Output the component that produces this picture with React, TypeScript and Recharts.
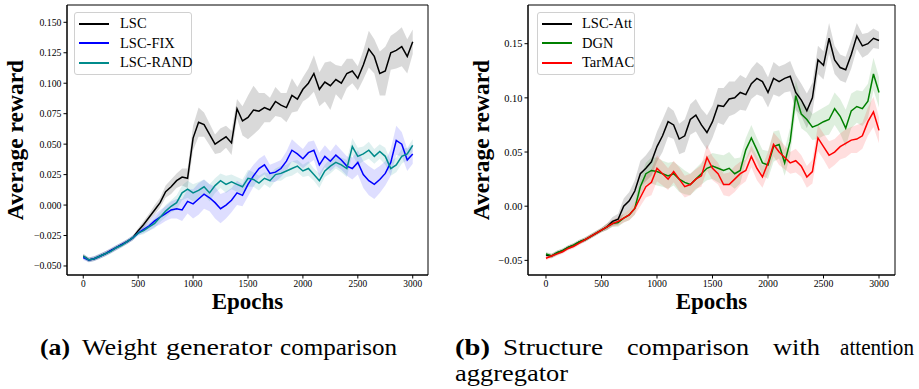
import React from 'react';
import { ComposedChart, Line, Area, XAxis, YAxis, Legend, ReferenceArea } from 'recharts';

const SERIF = '"Liberation Serif", "Times New Roman", serif';

// sampled every 50 epochs
const EPOCHS = Array.from({ length: 61 }, (_, i) => i * 50);
const X_TICKS = [0, 500, 1000, 1500, 2000, 2500, 3000];

// (a) weight generator comparison
const lsc = [
  -0.042, -0.045, -0.044, -0.042, -0.04, -0.0375, -0.035, -0.0325, -0.03, -0.027, -0.021,
  -0.016, -0.01, -0.004, 0.002, 0.011, 0.015, 0.02, 0.023, 0.022,
  0.055, 0.068, 0.066, 0.058, 0.05, 0.053, 0.056, 0.051,
  0.079, 0.069, 0.072, 0.078, 0.077, 0.08, 0.078, 0.085, 0.082, 0.08, 0.09, 0.087,
  0.095, 0.1, 0.108, 0.095, 0.101, 0.098, 0.103, 0.1, 0.108, 0.11,
  0.104, 0.115, 0.128, 0.122, 0.108, 0.11, 0.125, 0.127, 0.13, 0.122, 0.134,
];
const lscSpread = [
  0.002, 0.002, 0.002, 0.002, 0.002, 0.002, 0.002, 0.002, 0.002, 0.002, 0.002,
  0.003, 0.003, 0.004, 0.004, 0.005, 0.006, 0.006, 0.007, 0.008,
  0.01, 0.012, 0.01, 0.009, 0.008, 0.01, 0.009, 0.01,
  0.008, 0.012, 0.018, 0.02, 0.015, 0.012, 0.01, 0.012, 0.01, 0.012, 0.014, 0.01,
  0.01, 0.012, 0.015, 0.014, 0.016, 0.02, 0.012, 0.014, 0.012, 0.01,
  0.01, 0.012, 0.015, 0.014, 0.018, 0.02, 0.014, 0.015, 0.016, 0.014, 0.01,
];
const lscFix = [
  -0.043, -0.045, -0.044, -0.042, -0.04, -0.0375, -0.035, -0.0325, -0.03, -0.027, -0.023,
  -0.02, -0.017, -0.013, -0.01, -0.007, -0.004, -0.003, -0.004, 0.003,
  0.001, 0.005, 0.009, 0.006, 0.002, -0.003, 0.0, 0.004,
  0.01, 0.008, 0.017, 0.024, 0.03, 0.033, 0.026, 0.027, 0.03, 0.036, 0.045, 0.042,
  0.038, 0.043, 0.045, 0.033, 0.04, 0.036, 0.041, 0.037, 0.032, 0.03,
  0.035, 0.025, 0.02, 0.017, 0.021, 0.026, 0.035, 0.053, 0.05, 0.037, 0.042,
];
const lscFixSpread = [
  0.002, 0.002, 0.002, 0.002, 0.002, 0.002, 0.002, 0.002, 0.002, 0.002, 0.002,
  0.003, 0.004, 0.005, 0.006, 0.006, 0.007, 0.008, 0.009, 0.01,
  0.012, 0.013, 0.012, 0.011, 0.013, 0.012, 0.011, 0.01,
  0.01, 0.009, 0.01, 0.009, 0.008, 0.008, 0.007, 0.008, 0.007, 0.008, 0.009, 0.008,
  0.008, 0.009, 0.008, 0.01, 0.009, 0.008, 0.009, 0.008, 0.008, 0.009,
  0.01, 0.011, 0.012, 0.012, 0.011, 0.01, 0.011, 0.012, 0.01, 0.009, 0.008,
];
const lscRand = [
  -0.042, -0.045, -0.044, -0.042, -0.04, -0.038, -0.035, -0.033, -0.03, -0.027, -0.023,
  -0.021, -0.018, -0.015, -0.01, -0.005, -0.001, 0.002, 0.01, 0.013,
  0.01, 0.012, 0.015, 0.01, 0.016, 0.02, 0.017, 0.019,
  0.017, 0.015, 0.022, 0.021, 0.018, 0.022, 0.02, 0.025, 0.026, 0.028, 0.03, 0.032,
  0.028, 0.03, 0.025, 0.02, 0.028, 0.032, 0.035, 0.033, 0.03, 0.048,
  0.04, 0.042, 0.045, 0.04, 0.044, 0.04, 0.03, 0.033, 0.04, 0.042, 0.049,
];
const lscRandSpread = [
  0.002, 0.002, 0.002, 0.002, 0.002, 0.002, 0.002, 0.002, 0.002, 0.002, 0.002,
  0.003, 0.003, 0.004, 0.004, 0.005, 0.005, 0.006, 0.006, 0.007,
  0.007, 0.007, 0.006, 0.007, 0.006, 0.006, 0.007, 0.006,
  0.006, 0.006, 0.007, 0.006, 0.006, 0.005, 0.006, 0.005, 0.006, 0.005, 0.006, 0.005,
  0.005, 0.006, 0.005, 0.006, 0.005, 0.006, 0.005, 0.006, 0.007, 0.007,
  0.007, 0.006, 0.007, 0.006, 0.006, 0.007, 0.006, 0.006, 0.006, 0.005, 0.005,
];

// (b) structure comparison with attention aggregator
const lscAtt = [
  -0.045, -0.046, -0.043, -0.041, -0.038, -0.036, -0.033, -0.031, -0.028, -0.025, -0.022,
  -0.019, -0.014, -0.012, 0.0, 0.005, 0.014, 0.03, 0.035, 0.041,
  0.055, 0.065, 0.078, 0.075, 0.062, 0.065, 0.08, 0.084,
  0.075, 0.068, 0.078, 0.093, 0.092, 0.099, 0.1, 0.105, 0.103, 0.113, 0.118, 0.115,
  0.105, 0.118, 0.115, 0.118, 0.12, 0.105, 0.098, 0.088, 0.1, 0.135,
  0.13, 0.155, 0.135, 0.128, 0.126, 0.14, 0.157, 0.148, 0.15, 0.155, 0.153,
];
const lscAttSpread = [
  0.002, 0.002, 0.002, 0.002, 0.002, 0.002, 0.002, 0.002, 0.002, 0.002, 0.002,
  0.003, 0.004, 0.005, 0.007, 0.008, 0.01, 0.012, 0.012, 0.013,
  0.014, 0.015, 0.014, 0.013, 0.014, 0.015, 0.014, 0.015,
  0.015, 0.016, 0.015, 0.016, 0.017, 0.016, 0.015, 0.016, 0.015, 0.014, 0.015, 0.014,
  0.014, 0.015, 0.014, 0.013, 0.014, 0.016, 0.015, 0.016, 0.014, 0.013,
  0.013, 0.014, 0.013, 0.012, 0.012, 0.013, 0.012, 0.011, 0.01, 0.009, 0.008,
];
const dgn = [
  -0.044, -0.046, -0.043, -0.041, -0.038, -0.036, -0.033, -0.031, -0.028, -0.025, -0.022,
  -0.019, -0.016, -0.015, -0.011, -0.008, -0.002, 0.018, 0.03, 0.033,
  0.032, 0.03, 0.028, 0.03, 0.025, 0.022, 0.02, 0.025,
  0.03, 0.035, 0.037, 0.035, 0.033, 0.035, 0.03, 0.033, 0.052, 0.063, 0.052, 0.04,
  0.038, 0.055, 0.057, 0.04, 0.06, 0.102, 0.085, 0.08, 0.073, 0.075,
  0.078, 0.08, 0.09, 0.083, 0.072, 0.088, 0.092, 0.09, 0.097, 0.122, 0.105,
];
const dgnSpread = [
  0.002, 0.002, 0.002, 0.002, 0.002, 0.002, 0.002, 0.002, 0.002, 0.002, 0.002,
  0.003, 0.003, 0.004, 0.004, 0.005, 0.006, 0.008, 0.01, 0.012,
  0.013, 0.012, 0.012, 0.011, 0.012, 0.011, 0.01, 0.01,
  0.01, 0.011, 0.012, 0.013, 0.014, 0.015, 0.014, 0.012, 0.011, 0.012, 0.011, 0.012,
  0.013, 0.014, 0.013, 0.012, 0.013, 0.014, 0.013, 0.012, 0.012, 0.013,
  0.013, 0.014, 0.015, 0.016, 0.017, 0.016, 0.015, 0.016, 0.016, 0.015, 0.014,
];
const tarmac = [
  -0.048, -0.046, -0.044, -0.042, -0.039, -0.037, -0.034, -0.031, -0.028, -0.025, -0.022,
  -0.019, -0.016, -0.014, -0.011, -0.008, -0.002, 0.008, 0.018, 0.022,
  0.035, 0.03, 0.025, 0.032, 0.025, 0.018, 0.02, 0.025,
  0.028, 0.045, 0.035, 0.03, 0.02, 0.02, 0.025, 0.03, 0.033, 0.046, 0.035, 0.027,
  0.04, 0.057, 0.05, 0.045, 0.04, 0.042, 0.037, 0.027, 0.032, 0.063,
  0.055, 0.047, 0.05, 0.055, 0.058, 0.061, 0.062, 0.065, 0.078, 0.087, 0.07,
];
const tarmacSpread = [
  0.002, 0.002, 0.002, 0.002, 0.002, 0.002, 0.002, 0.002, 0.002, 0.002, 0.002,
  0.003, 0.003, 0.004, 0.004, 0.005, 0.006, 0.008, 0.01, 0.012,
  0.012, 0.011, 0.01, 0.01, 0.011, 0.01, 0.01, 0.009,
  0.01, 0.012, 0.011, 0.01, 0.01, 0.011, 0.012, 0.011, 0.01, 0.01, 0.011, 0.01,
  0.01, 0.011, 0.012, 0.011, 0.01, 0.011, 0.01, 0.01, 0.011, 0.012,
  0.012, 0.013, 0.012, 0.012, 0.013, 0.012, 0.013, 0.012, 0.013, 0.014, 0.012,
];

type Series = { key: string; name: string; color: string; bandOpacity: number; values: number[]; spread: number[] };

const seriesA: Series[] = [
  { key: 'lsc', name: 'LSC', color: '#000000', bandOpacity: 0.15, values: lsc, spread: lscSpread },
  { key: 'lscFix', name: 'LSC-FIX', color: '#0000ff', bandOpacity: 0.13, values: lscFix, spread: lscFixSpread },
  { key: 'lscRand', name: 'LSC-RAND', color: '#008b8b', bandOpacity: 0.13, values: lscRand, spread: lscRandSpread },
];
const seriesB: Series[] = [
  { key: 'lscAtt', name: 'LSC-Att', color: '#000000', bandOpacity: 0.15, values: lscAtt, spread: lscAttSpread },
  { key: 'dgn', name: 'DGN', color: '#008000', bandOpacity: 0.13, values: dgn, spread: dgnSpread },
  { key: 'tarmac', name: 'TarMAC', color: '#ff0000', bandOpacity: 0.13, values: tarmac, spread: tarmacSpread },
];

function buildRows(series: Series[]) {
  return EPOCHS.map((epoch, i) => {
    const row: Record<string, any> = { epoch };
    series.forEach((s) => {
      row[s.key] = s.values[i];
      row[s.key + 'Band'] = [s.values[i] - s.spread[i], s.values[i] + s.spread[i]];
    });
    return row;
  });
}

const fmt = (digits: number) => (v: number) => (v < -1e-9 ? '\u2212' : '') + Math.abs(v).toFixed(digits);

function LegendBox({ series, width, textLeft }: { series: Series[]; width: number; textLeft: number }) {
  return (
    <div
      style={{
        position: 'relative',
        width,
        height: 63,
        boxSizing: 'border-box',
        border: '1px solid #d0d0d0',
        borderRadius: 3,
        background: 'rgba(255,255,255,0.85)',
      }}
    >
      {series.map((s, i) => (
        <React.Fragment key={s.key}>
          <div style={{ position: 'absolute', left: 4, top: 9.5 + i * 19.5, width: 30, height: 2, background: s.color }} />
          <span
            style={{
              position: 'absolute',
              left: textLeft,
              top: 2 + i * 19.5,
              fontFamily: SERIF,
              fontSize: 14.5,
              lineHeight: '17px',
              color: '#000',
              whiteSpace: 'nowrap',
            }}
          >
            {s.name}
          </span>
        </React.Fragment>
      ))}
    </div>
  );
}

interface PanelProps {
  series: Series[];
  width: number;
  yAxisWidth: number;
  marginRight: number;
  xDomain: [number, number];
  yDomain: [number, number];
  yTicks: number[];
  yDigits: number;
  yTickSize: number;
  xTickSize: number;
  labelX: number;
  legendLeft: number;
  legendWidth: number;
}

function Panel(p: PanelProps) {
  const rows = buildRows(p.series);
  return (
    <ComposedChart width={p.width} height={320} data={rows} margin={{ top: 5, right: p.marginRight, bottom: 0, left: 0 }}>
      {p.series.map((s) => (
        <Area
          key={s.key + 'Band'}
          type="linear"
          dataKey={s.key + 'Band'}
          stroke="none"
          fill={s.color}
          fillOpacity={s.bandOpacity}
          isAnimationActive={false}
          activeDot={false}
          legendType="none"
        />
      ))}
      {p.series.map((s) => (
        <Line
          key={s.key}
          type="linear"
          dataKey={s.key}
          name={s.name}
          stroke={s.color}
          strokeWidth={1.5}
          dot={false}
          isAnimationActive={false}
        />
      ))}
      <XAxis
        dataKey="epoch"
        type="number"
        domain={p.xDomain}
        ticks={X_TICKS}
        allowDataOverflow
        height={45}
        tickSize={3.5}
        tickMargin={1.5}
        axisLine={{ stroke: '#000' }}
        tickLine={{ stroke: '#000' }}
        tick={{ fontSize: p.xTickSize, fontFamily: SERIF, fill: '#000' }}
        label={{ value: 'Epochs', position: 'insideBottom', offset: 11, fontSize: 23, fontWeight: 'bold', fontFamily: SERIF, fill: '#000' }}
      />
      <YAxis
        type="number"
        domain={p.yDomain}
        ticks={p.yTicks}
        allowDataOverflow
        width={p.yAxisWidth}
        tickSize={3.5}
        tickMargin={2}
        tickFormatter={fmt(p.yDigits)}
        axisLine={{ stroke: '#000' }}
        tickLine={{ stroke: '#000' }}
        tick={{ fontSize: p.yTickSize, fontFamily: SERIF, fill: '#000' }}
        label={{
          content: (props: any) => {
            const vb = props.viewBox || { x: 0, y: 5, height: 270 };
            const cy = vb.y + vb.height / 2;
            return (
              <text
                transform={`translate(${p.labelX}, ${cy}) rotate(-90)`}
                textAnchor="middle"
                fontFamily={SERIF}
                fontWeight="bold"
                fontSize={23.5}
                fill="#000"
              >
                Average reward
              </text>
            );
          },
        }}
      />
      <ReferenceArea
        x1={p.xDomain[0]}
        x2={p.xDomain[1]}
        y1={p.yDomain[0]}
        y2={p.yDomain[1]}
        fill="none"
        fillOpacity={0}
        stroke="#000"
        strokeWidth={1}
      />
      <Legend
        layout="vertical"
        align="center"
        verticalAlign="middle"
        wrapperStyle={{ left: p.legendLeft, top: 12, width: p.legendWidth, height: 63 }}
        content={() => <LegendBox series={p.series} width={p.legendWidth} textLeft={p.legendWidth === 118 ? 45 : 44} />}
      />
    </ComposedChart>
  );
}

function Caption() {
  const word = (x: number, y: number, len: number, text: string, bold = false) => (
    <text
      x={x}
      y={y}
      textLength={len}
      lengthAdjust="spacingAndGlyphs"
      fontFamily={SERIF}
      fontSize={23}
      fontWeight={bold ? 'bold' : 'normal'}
      fill="#000"
    >
      {text}
    </text>
  );
  return (
    <svg width={919} height={69} style={{ position: 'absolute', left: 0, top: 320 }}>
      {word(40, 35, 30, '(a)', true)}
      {word(82, 35, 75, 'Weight')}
      {word(166, 35, 106, 'generator')}
      {word(280, 35, 117, 'comparison')}
      {word(455, 35, 35, '(b)', true)}
      {word(503, 35, 100, 'Structure')}
      {word(627, 35, 122, 'comparison')}
      {word(773, 35, 47, 'with')}
      {word(840, 35, 74, 'attention')}
      {word(455, 60.5, 113, 'aggregator')}
    </svg>
  );
}

export default function App() {
  return (
    <div style={{ position: 'absolute', left: 0, top: 0, width: 919, height: 389, background: '#fff', overflow: 'hidden' }}>
      <div style={{ position: 'absolute', left: 0, top: 0 }}>
        <Panel
          series={seriesA}
          width={460}
          yAxisWidth={67}
          marginRight={32}
          xDomain={[-148, 3139]}
          yDomain={[-0.0574, 0.1642]}
          yTicks={[-0.05, -0.025, 0, 0.025, 0.05, 0.075, 0.1, 0.125, 0.15]}
          yDigits={3}
          yTickSize={9.8}
          xTickSize={9.4}
          labelX={23}
          legendLeft={74}
          legendWidth={118}
        />
      </div>
      <div style={{ position: 'absolute', left: 460, top: 0 }}>
        <Panel
          series={seriesB}
          width={459}
          yAxisWidth={68}
          marginRight={24}
          xDomain={[-162, 3144]}
          yDomain={[-0.0635, 0.1857]}
          yTicks={[-0.05, 0, 0.05, 0.1, 0.15]}
          yDigits={2}
          yTickSize={10.4}
          xTickSize={9.8}
          labelX={29}
          legendLeft={77}
          legendWidth={98}
        />
      </div>
      <Caption />
    </div>
  );
}
